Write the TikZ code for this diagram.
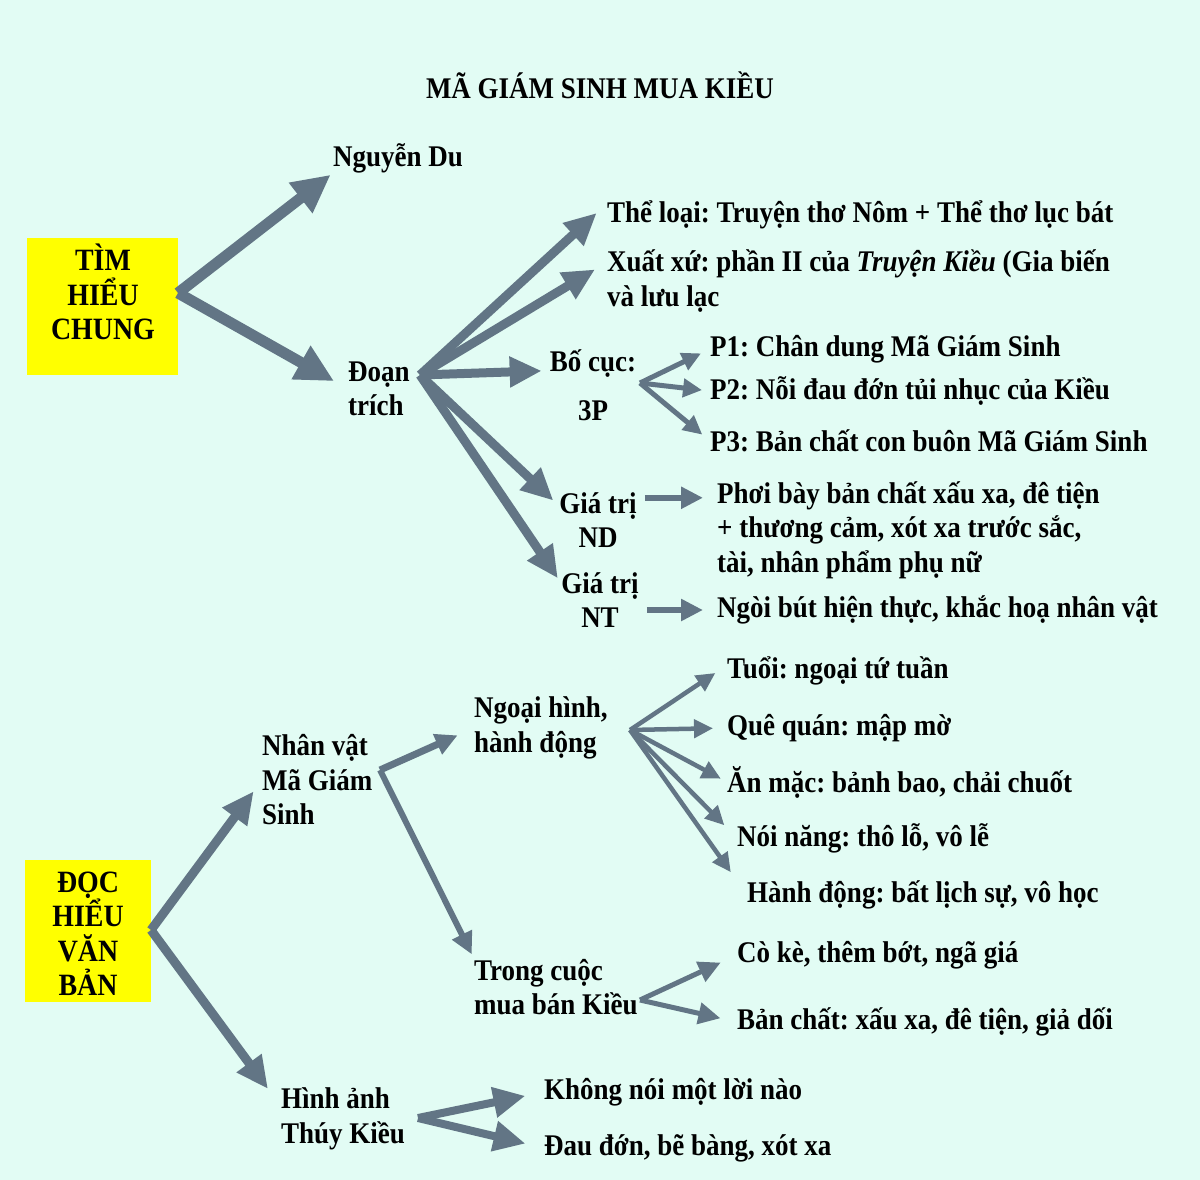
\documentclass[tikz,border=0pt]{standalone}
\usepackage{fontspec}
\setmainfont{Liberation Serif}[FakeStretch=0.9]
\usepackage{xcolor}
\usetikzlibrary{
		calc,
		arrows.meta,
		positioning
	}
\frenchspacing
\definecolor{bgmint}{HTML}{E2FCF4}
\definecolor{arrowgray}{HTML}{627585}
\definecolor{boxyellow}{HTML}{FFFF00}
\tikzset{
		>=stealth,
		txt/.style={inner sep=0pt,font=\fontsize{30}{34.5}\selectfont\bfseries},
		lbl/.style={txt,anchor=west,align=left},
		ybox/.style={inner sep=0pt,fill=boxyellow},
		boxtxt/.style={inner sep=0pt,font=\fontsize{31}{34.5}\selectfont\bfseries,align=center},
		heavy/.style={draw=arrowgray,line width=11pt,-{Triangle[length=38pt,width=36pt]}},
		mid/.style={draw=arrowgray,line width=9pt,-{Triangle[length=32pt,width=29pt]}},
		light/.style={draw=arrowgray,line width=6pt,-{Triangle[length=22pt,width=21pt]}},
		thin/.style={draw=arrowgray,line width=5pt,-{Triangle[length=19pt,width=18pt]}}
	}

\begin{document}
\begin{tikzpicture}[x=1pt,y=-1pt]
          \fill[bgmint] (0,0) rectangle (1200,1180);
          \useasboundingbox (0,0) rectangle (1200,1180);

          \node[txt] (title) at (600,85) {MÃ GIÁM SINH MUA KIỀU};

          % tim hieu chung
          \node[ybox,minimum width=151pt,minimum height=137pt] (tim) at (102.5,306.5) {};
          \node[boxtxt] (timtxt) at (103,292) {TÌM\\HIỂU\\CHUNG};
          \coordinate (f1) at (178,293);
          \coordinate (f2) at (420,375);
          \coordinate (f3) at (640,383);

          \node[lbl] (nd) at (333,158) {Nguyễn Du};
          \node[lbl] (doan) at (348,389) {Đoạn\\trích};
          \node[lbl] (theloai) at (607,215) {Thể loại: Truyện thơ Nôm + Thể thơ lục bát};
          \node[lbl] (xuatxu) at (607,281) {Xuất xứ: phần II của \textit{Truyện Kiều} (Gia biến\\và lưu lạc};
          \node[txt,align=center] (bocuc) at (593,385) {Bố cục:\\[15pt]3P};
          \node[lbl] (p1) at (710,349) {P1: Chân dung Mã Giám Sinh};
          \node[lbl] (p2) at (710,391) {P2: Nỗi đau đớn tủi nhục của Kiều};
          \node[lbl] (p3) at (710,441) {P3: Bản chất con buôn Mã Giám Sinh};
          \node[txt,align=center] (gtnd) at (598,520) {Giá trị\\ND};
          \node[lbl] (phoi) at (717,530) {Phơi bày bản chất xấu xa, đê tiện\\+ thương cảm, xót xa trước sắc,\\tài, nhân phẩm phụ nữ};
          \node[txt,align=center] (gtnt) at (600,600) {Giá trị\\NT};
          \node[lbl] (ngoi) at (717,610) {Ngòi bút hiện thực, khắc hoạ nhân vật};
          \coordinate (g1) at ($(phoi.north west)!.17!(phoi.south west)$);

          \draw[heavy,shorten >=3pt] (f1) -- (nd.south west);
          \draw[heavy,shorten >=16pt] (f1) -- (doan.west);
          \draw[mid,shorten >=14pt] (f2) -- ($(theloai.north west)!.1!(theloai.south west)$);
          \draw[mid,shorten >=14pt] (f2) -- ($(xuatxu.north west)!.2!(xuatxu.south west)$);
          \draw[mid,shorten >=8pt] (f2) -- ($(bocuc.north west)!.3!(bocuc.south west)$);
          \draw[mid,shorten >=8pt] (f2) -- ($(gtnd.north west)!.25!(gtnd.south west)$);
          \draw[mid,shorten >=6pt] (f2) -- ($(gtnt.north west)!.2!(gtnt.south west)$);
          \draw[thin,shorten >=10pt] (f3) -- (p1.west);
          \draw[thin,shorten >=8pt] (f3) -- (p2.west);
          \draw[thin,shorten >=10pt] (f3) -- (p3.west);
          \draw[light,shorten <=8pt,shorten >=14pt] (gtnd.east |- g1) -- (g1);
          \draw[light,shorten <=8pt,shorten >=14pt] (gtnt.east |- ngoi.west) -- (ngoi.west);

          % doc hieu van ban
          \node[ybox,minimum width=126pt,minimum height=142pt] (doc) at (88,931) {};
          \node[boxtxt] (doctxt) at (88,934) {ĐỌC\\HIỂU\\VĂN\\BẢN};
          \coordinate (f4) at (151,930);
          \coordinate (f5) at (380,770);
          \coordinate (f6) at (630,730);
          \coordinate (f7) at (640,1000);
          \coordinate (f8) at (418,1118);

          \node[lbl] (nv) at (262,780) {Nhân vật\\Mã Giám\\Sinh};
          \node[lbl] (ha) at (281,1119) {Hình ảnh\\Thúy Kiều};
          \node[lbl] (ngoai) at (474,728) {Ngoại hình,\\hành động};
          \node[lbl] (trong) at (474,987) {Trong cuộc\\mua bán Kiều};
          \node[lbl] (tuoi) at (727,671) {Tuổi: ngoại tứ tuần};
          \node[lbl] (que) at (727,728) {Quê quán: mập mờ};
          \node[lbl] (anmac) at (727,782) {Ăn mặc: bảnh bao, chải chuốt};
          \node[lbl] (noi) at (737,838) {Nói năng: thô lỗ, vô lễ};
          \node[lbl] (hanh) at (747,895) {Hành động: bất lịch sự, vô học};
          \node[lbl] (coke) at (737,955) {Cò kè, thêm bớt, ngã giá};
          \node[lbl] (banchat) at (737,1022) {Bản chất: xấu xa, đê tiện, giả dối};
          \node[lbl] (khong) at (544,1092) {Không nói một lời nào};
          \node[lbl] (daudon) at (544,1148) {Đau đớn, bẽ bàng, xót xa};

          \draw[mid,shorten >=14pt] (f4) -- (nv.west);
          \draw[mid,shorten >=22pt] (f4) -- ($(ha.north west)!.3!(ha.south west)$);
          \draw[light,line width=7pt,shorten >=18pt] (f5) -- (ngoai.west);
          \draw[light,shorten >=5pt] (f5) -- (trong.north west);
          \draw[thin,line width=4.5pt,shorten >=14pt] (f6) -- ($(tuoi.north west)!.3!(tuoi.south west)$);
          \draw[thin,line width=4.5pt,shorten >=14pt] (f6) -- (que.west);
          \draw[thin,line width=4.5pt,shorten >=7pt] (f6) -- (anmac.west);
          \draw[thin,line width=4.5pt,shorten >=18pt] (f6) -- (noi.west);
          \draw[thin,line width=4.5pt,shorten >=28pt] (f6) -- (hanh.west);
          \draw[light,line width=5pt,shorten >=18pt] (f7) -- (coke.west);
          \draw[light,line width=5pt,shorten >=17pt] (f7) -- (banchat.west);
          \draw[mid,line width=8pt,shorten >=19pt] (f8) -- (khong.west);
          \draw[mid,line width=8pt,shorten >=19pt] (f8) -- (daudon.west);

          \end{tikzpicture}
\end{document}
